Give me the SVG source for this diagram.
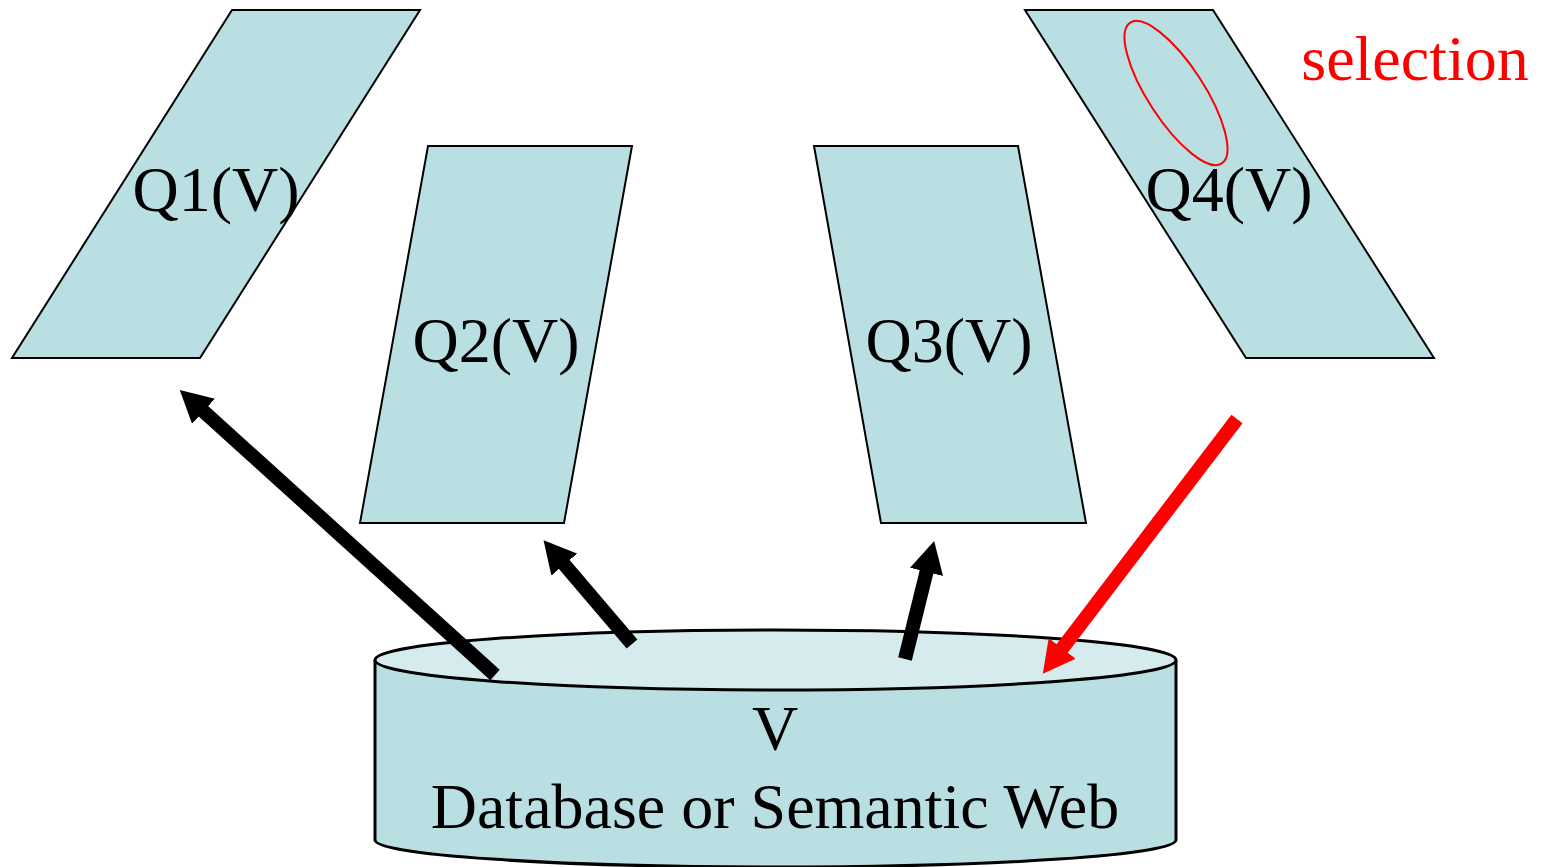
<svg xmlns="http://www.w3.org/2000/svg" width="1544" height="867" viewBox="0 0 1544 867">
<style>
.q{fill:#b9dfe2;stroke:#000;stroke-width:2}
.t{font-family:"Liberation Serif","Times New Roman",serif;font-size:64px;fill:#000;text-anchor:middle}
.ar{stroke:#000;stroke-width:14;fill:none}
.ar.red{stroke:#f00}
</style>
<defs>
<marker id="hb" viewBox="0 -17 32 34" markerWidth="32" markerHeight="34" refX="2" refY="0" orient="auto" markerUnits="userSpaceOnUse"><path d="M0,-17 L32,0 L0,17 z" fill="#000"/></marker>
<marker id="hr" viewBox="0 -17 32 34" markerWidth="32" markerHeight="34" refX="2" refY="0" orient="auto" markerUnits="userSpaceOnUse"><path d="M0,-17 L32,0 L0,17 z" fill="#f00"/></marker>
</defs>
<rect width="1544" height="867" fill="#fff"/>
<g id="db">
<path d="M375,660 L375,840 A400,27 0 0 0 1176,840 L1176,660" fill="#b9dfe2" stroke="#000" stroke-width="3"/>
<ellipse cx="775.5" cy="660" rx="400.5" ry="30" fill="#d6ebee" stroke="#000" stroke-width="3"/>
<text class="t" x="775" y="750">V</text>
<text class="t" x="775" y="828">Database or Semantic Web</text>
</g>
<g id="q1">
<polygon class="q" points="232,10 420,10 200,358 12,358"/>
<text class="t" x="216" y="211">Q1(V)</text>
</g>
<g id="q2">
<polygon class="q" points="428,146 632,146 564,523 360,523"/>
<text class="t" x="496" y="362">Q2(V)</text>
</g>
<g id="q3">
<polygon class="q" points="814,146 1018,146 1086,523 881,523"/>
<text class="t" x="949" y="362">Q3(V)</text>
</g>
<g id="q4">
<polygon class="q" points="1025,10 1213,10 1434,358 1246,358"/>
<ellipse cx="1176" cy="93" rx="84" ry="28" transform="rotate(57 1176 93)" fill="none" stroke="#f00" stroke-width="2"/>
<text class="t" x="1229" y="211">Q4(V)</text>
</g>
<g id="sel">
<text class="t" x="1415" y="80" style="fill:#f00">selection</text>
</g>
<g id="connectors">
<line class="ar" x1="495" y1="675" x2="202" y2="410" marker-end="url(#hb)"/>
<line class="ar" x1="632" y1="644" x2="563" y2="563" marker-end="url(#hb)"/>
<line class="ar" x1="905" y1="659" x2="927" y2="570" marker-end="url(#hb)"/>
<line class="ar red" x1="1237" y1="419" x2="1061" y2="650" marker-end="url(#hr)"/>
</g>
</svg>
